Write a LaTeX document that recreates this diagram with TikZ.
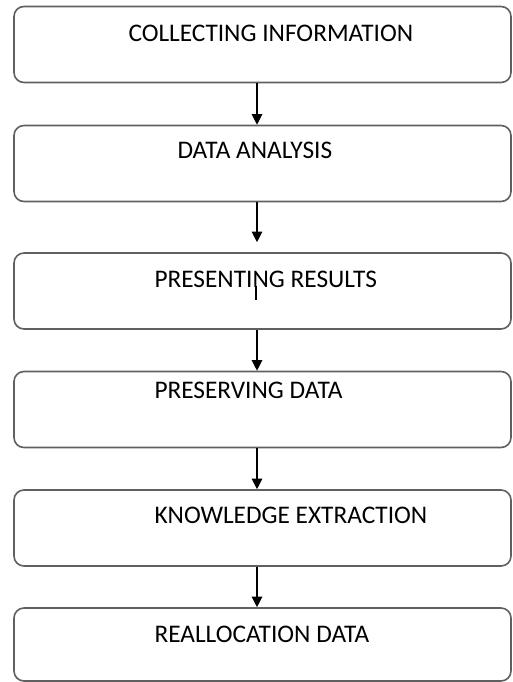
\documentclass[tikz,border=0pt]{standalone}
\usepackage{fontspec}
\setmainfont{Carlito}
\usetikzlibrary{arrows.meta}

\tikzset{every picture/.style={line width=0.75pt}}
\tikzset{
  stagebox/.style={draw={rgb, 255:red, 96; green, 96; blue, 96}, line width=1.2pt, rounded corners=7.5pt, minimum width=372.75pt, minimum height=57pt, inner sep=0pt},
  stagetext/.style={anchor=west, inner sep=0pt, font=\fontsize{19}{22}\selectfont},
  flow/.style={-{Triangle[length=8pt,width=8pt]}, line width=0.9pt}
}

\begin{document}
\begin{tikzpicture}[x=0.75pt,y=0.75pt,yscale=-1,xscale=1]
\useasboundingbox (0,0) rectangle (512,682);

% Boxes
\node (b1) [stagebox] at (262.5,44.5) {};
\node (b2) [stagebox] at (262.5,163.5) {};
\node (b3) [stagebox] at (262.5,291) {};
\node (b4) [stagebox] at (262.5,409.5) {};
\node (b5) [stagebox] at (262.5,528) {};
\node (b6) [stagebox, minimum height=54.75pt] at (262.5,644.5) {};

% Text Node
\node (t1) [stagetext] at (128,33.5) {COLLECTING INFORMATION};
% Text Node
\node (t2) [stagetext] at (177,150) {DATA ANALYSIS};
% Text Node
\node (t3) [stagetext] at (154,279) {PRESENTING RESULTS};
% Text Node
\node (t4) [stagetext] at (154,390) {PRESERVING DATA};
% Text Node
\node (t5) [stagetext] at (154,515) {KNOWLEDGE EXTRACTION};
% Text Node
\node (t6) [stagetext] at (154,634) {REALLOCATION DATA};

% Arrows
\coordinate (axis) at (257,0);
\draw [flow] (b1.south -| axis) -- (b2.north -| axis);
\draw [flow, shorten >=7.5pt] (b2.south -| axis) -- (b3.north -| axis);
\draw [flow] (b3.south -| axis) -- (b4.north -| axis);
\draw [flow] (b4.south -| axis) -- (b5.north -| axis);
\draw [flow] (b5.south -| axis) -- (b6.north -| axis);

% stray mark
\draw [line width=1.5pt] (256,286) -- (256,300);

\end{tikzpicture}
\end{document}
